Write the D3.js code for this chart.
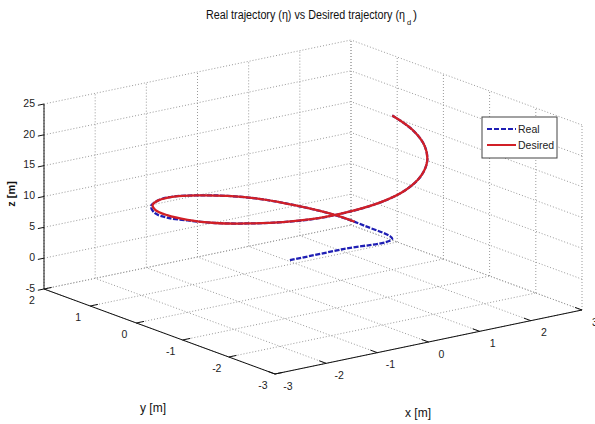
<!DOCTYPE html>
<html>
<head>
<meta charset="utf-8">
<script src="https://cdn.jsdelivr.net/npm/d3@7"></script>
<style>
  body { margin: 0; background: #fff; }
  svg { display: block; font-family: "Liberation Sans", Arial, sans-serif; }
  .tick-label { font-size: 10.5px; fill: #222; }
  .axis-label { font-size: 12px; fill: #111; }
</style>
</head>
<body>
<svg id="chart" width="595" height="424"></svg>
<script>
// tick values
const xTicks = [-3, -2, -1, 0, 1, 2, 3];
const yTicks = [-3, -2, -1, 0, 1, 2];
const zTicks = [-5, 0, 5, 10, 15, 20, 25];

// desired trajectory (helix)
const desiredX = [1.88, 1.73, 1.41, 1.00, 0.52, 0.00, -0.52, -1.00, -1.41, -1.73, -1.93, -2.00, -1.93, -1.73, -1.41, -1.00, -0.52, 0.00, 0.52, 1.00, 1.41, 1.73, 1.93, 2.00];
const desiredY = [0.68, 1.00, 1.41, 1.73, 1.93, 2.00, 1.93, 1.73, 1.41, 1.00, 0.52, 0.00, -0.52, -1.00, -1.41, -1.73, -1.93, -2.00, -1.93, -1.73, -1.41, -1.00, -0.52, 0.00];
const desiredZ = [1.1, 1.7, 2.5, 3.4, 4.2, 5.0, 5.9, 6.7, 7.5, 8.4, 9.2, 10.0, 10.8, 11.7, 12.5, 13.3, 14.2, 15.0, 15.8, 16.7, 17.5, 18.3, 19.2, 20.0];

// real trajectory, starts at the origin
const realX = [0, 1, 2, 1.93, 1.73, 1.41, 1.00, 0.52, 0.00, -0.52, -1.00, -1.43, -1.76, -1.95, -2.00, -1.93, -1.73, -1.41, -1.00, -0.52, 0.00, 0.52, 1.00, 1.41, 1.73, 1.93, 2.00];
const realY = [0, 0, 0, 0.52, 1.00, 1.41, 1.73, 1.93, 2.00, 1.93, 1.73, 1.42, 0.98, 0.50, 0.00, -0.52, -1.00, -1.41, -1.73, -1.93, -2.00, -1.93, -1.73, -1.41, -1.00, -0.52, 0.00];
const realZ = [0, 0, 0, 0.8, 1.7, 2.5, 3.4, 4.2, 5.0, 5.9, 6.7, 7.3, 8.0, 8.9, 9.9, 10.8, 11.7, 12.5, 13.3, 14.2, 15.0, 15.8, 16.7, 17.5, 18.3, 19.2, 20.0];

const svg = d3.select("#chart");

// 3D -> screen (orthographic view)
const x3 = d3.scaleLinear().domain([-3, 3]).range([0, 1]);
const y3 = d3.scaleLinear().domain([-3, 2]).range([0, 1]);
const z3 = d3.scaleLinear().domain([-5, 25]).range([374, 189]);
const X = [307, -64], Y = [-231, -85], ox = 275;

function project(x, y, z) {
  return [ox + X[0] * x3(x) + Y[0] * y3(y),
          z3(z) + X[1] * x3(x) + Y[1] * y3(y)];
}

function seg(a, b) {
  const p = project(...a), q = project(...b);
  return svg.append("line")
    .attr("x1", p[0]).attr("y1", p[1])
    .attr("x2", q[0]).attr("y2", q[1]);
}

const [xmin, xmax] = x3.domain(), [ymin, ymax] = y3.domain(), [zmin, zmax] = z3.domain();

// grid lines on the back planes
const grid = [];
xTicks.forEach(v => {
  grid.push([[v, ymin, zmin], [v, ymax, zmin]]);
  grid.push([[v, ymax, zmin], [v, ymax, zmax]]);
});
yTicks.forEach(v => {
  grid.push([[xmin, v, zmin], [xmax, v, zmin]]);
  grid.push([[xmax, v, zmin], [xmax, v, zmax]]);
});
zTicks.forEach(v => {
  grid.push([[xmin, ymax, v], [xmax, ymax, v]]);
  grid.push([[xmax, ymin, v], [xmax, ymax, v]]);
});
grid.forEach(g => seg(g[0], g[1])
  .attr("stroke", "#9a9a9a").attr("stroke-width", 1)
  .attr("stroke-dasharray", "1,2"));

// axis lines
const axisColor = "#111";
seg([xmin, ymin, zmin], [xmax, ymin, zmin]).attr("stroke", axisColor);
seg([xmin, ymin, zmin], [xmin, ymax, zmin]).attr("stroke", axisColor);
seg([xmin, ymax, zmin], [xmin, ymax, zmax]).attr("stroke", axisColor);

// ticks + labels
xTicks.forEach(v => {
  seg([v, ymin, zmin], [v, ymin + 0.15, zmin]).attr("stroke", axisColor);
  const p = project(v, ymin, zmin);
  svg.append("text").attr("class", "tick-label")
    .attr("x", p[0] + 13).attr("y", p[1] + 12).attr("dy", "0.35em")
    .attr("text-anchor", "middle").text(v);
});
yTicks.forEach(v => {
  seg([xmin, v, zmin], [xmin + 0.15, v, zmin]).attr("stroke", axisColor);
  const p = project(xmin, v, zmin);
  svg.append("text").attr("class", "tick-label")
    .attr("x", p[0] - 12).attr("y", p[1] + 11).attr("dy", "0.35em")
    .attr("text-anchor", "middle").text(v);
});
zTicks.forEach(v => {
  seg([xmin, ymax, v], [xmin - 0.12, ymax, v]).attr("stroke", axisColor);
  const p = project(xmin, ymax, v);
  svg.append("text").attr("class", "tick-label")
    .attr("x", p[0] - 9).attr("y", p[1] - 1).attr("dy", "0.35em")
    .attr("text-anchor", "end").text(v);
});

// trajectories
const line3 = d3.line()
  .x(d => project(...d)[0])
  .y(d => project(...d)[1])
  .curve(d3.curveCatmullRom.alpha(0.5));

const realPts = realX.map((x, i) => [x, realY[i], realZ[i]]);
const desiredPts = desiredX.map((x, i) => [x, desiredY[i], desiredZ[i]]);

svg.append("path").datum(realPts)
  .attr("fill", "none").attr("stroke", "#1f1fb4")
  .attr("stroke-width", 2.3).attr("stroke-dasharray", "5,1.5")
  .attr("d", line3);

svg.append("path").datum(desiredPts)
  .attr("fill", "none").attr("stroke", "#d11f26")
  .attr("stroke-width", 2.3)
  .attr("d", line3);

// axis labels
svg.append("text").attr("class", "axis-label")
  .attr("x", 418).attr("y", 417).attr("text-anchor", "middle").text("x [m]");
svg.append("text").attr("class", "axis-label")
  .attr("x", 153).attr("y", 412).attr("text-anchor", "middle").text("y [m]");
svg.append("text").attr("class", "axis-label")
  .attr("transform", "translate(15,194) rotate(-90)")
  .attr("text-anchor", "middle").style("font-weight", "bold").style("font-size", "11px")
  .text("z [m]");

// title (subscript placed as separate texts)
svg.append("text")
  .attr("x", 206).attr("y", 19)
  .attr("textLength", 199).attr("lengthAdjust", "spacingAndGlyphs")
  .style("font-size", "12px").attr("fill", "#111")
  .text("Real trajectory (η) vs Desired trajectory (η");
svg.append("text").attr("x", 407).attr("y", 25)
  .style("font-size", "7.5px").attr("fill", "#111").text("d");
svg.append("text").attr("x", 413).attr("y", 19)
  .style("font-size", "12px").attr("fill", "#111").text(")");

// legend
const legend = svg.append("g");
legend.append("rect").attr("x", 482).attr("y", 117).attr("width", 75).attr("height", 41)
  .attr("fill", "#fff").attr("stroke", "#444").attr("stroke-width", 1);
legend.append("line").attr("x1", 487).attr("x2", 516).attr("y1", 129).attr("y2", 129)
  .attr("stroke", "#1f1fb4").attr("stroke-width", 2).attr("stroke-dasharray", "5,2");
legend.append("line").attr("x1", 487).attr("x2", 516).attr("y1", 145).attr("y2", 145)
  .attr("stroke", "#d11f26").attr("stroke-width", 2);
legend.append("text").attr("x", 518).attr("y", 129).attr("dy", "0.35em")
  .style("font-size", "10.5px").attr("fill", "#222").text("Real");
legend.append("text").attr("x", 518).attr("y", 145).attr("dy", "0.35em")
  .style("font-size", "10.5px").attr("fill", "#222").text("Desired");
</script>
</body>
</html>
